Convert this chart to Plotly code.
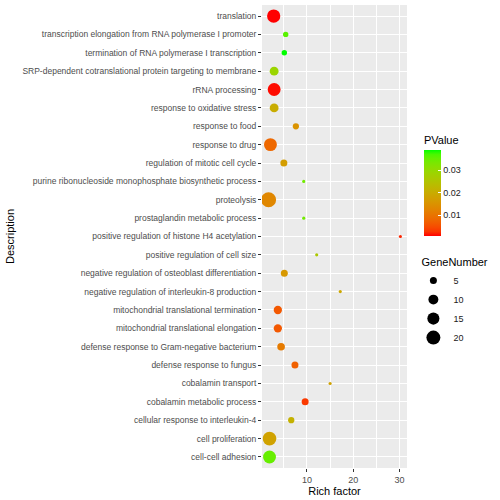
import numpy as np
import plotly.graph_objects as go

descriptions = [
    "translation",
    "transcription elongation from RNA polymerase I promoter",
    "termination of RNA polymerase I transcription",
    "SRP-dependent cotranslational protein targeting to membrane",
    "rRNA processing",
    "response to oxidative stress",
    "response to food",
    "response to drug",
    "regulation of mitotic cell cycle",
    "purine ribonucleoside monophosphate biosynthetic process",
    "proteolysis",
    "prostaglandin metabolic process",
    "positive regulation of histone H4 acetylation",
    "positive regulation of cell size",
    "negative regulation of osteoblast differentiation",
    "negative regulation of interleukin-8 production",
    "mitochondrial translational termination",
    "mitochondrial translational elongation",
    "defense response to Gram-negative bacterium",
    "defense response to fungus",
    "cobalamin transport",
    "cobalamin metabolic process",
    "cellular response to interleukin-4",
    "cell proliferation",
    "cell-cell adhesion",
]
rich_factor = [2.8, 5.4, 5.1, 2.9, 2.9, 2.9, 7.6, 2.1, 5.0, 9.3, 1.7, 9.3, 30.2,
               12.1, 5.1, 17.2, 3.7, 3.7, 4.4, 7.4, 15.0, 9.6, 6.6, 1.9, 1.9]
p_value = [0.0006, 0.036, 0.039, 0.029, 0.001, 0.020, 0.015, 0.008, 0.017, 0.034,
           0.013, 0.034, 0.002, 0.026, 0.016, 0.019, 0.006, 0.006, 0.011, 0.007,
           0.018, 0.003, 0.021, 0.018, 0.035]
gene_number = [18, 3, 3, 8, 17, 8, 4, 17, 5, 1, 23, 1, 1, 1, 5, 1, 7, 7, 6, 5,
               1, 5, 4, 19, 17]
legend_sizes = [5, 10, 15, 20]
colorbar_ticks = [0.01, 0.02, 0.03]

FONT = "Liberation Sans, Arial, Helvetica, sans-serif"

# --- Lab interpolation (ggplot-like gradient red -> green) ---
def srgb_to_lin(c):
    c = c / 255.0
    return np.where(c <= 0.04045, c / 12.92, ((c + 0.055) / 1.055) ** 2.4)

def lin_to_srgb(c):
    c = np.clip(c, 0, 1)
    v = np.where(c <= 0.0031308, 12.92 * c, 1.055 * c ** (1 / 2.4) - 0.055)
    return np.clip(v * 255, 0, 255)

M = np.array([[0.4124, 0.3576, 0.1805], [0.2126, 0.7152, 0.0722], [0.0193, 0.1192, 0.9505]])
Minv = np.linalg.inv(M)
WP = np.array([0.95047, 1.0, 1.08883])

def f(t):
    return np.where(t > (6 / 29) ** 3, np.cbrt(t), t / (3 * (6 / 29) ** 2) + 4 / 29)

def finv(t):
    return np.where(t > 6 / 29, t ** 3, 3 * (6 / 29) ** 2 * (t - 4 / 29))

def rgb_to_lab(rgb):
    xyz = M @ srgb_to_lin(np.array(rgb, float)) / WP
    fx, fy, fz = f(xyz)
    return np.array([116 * fy - 16, 500 * (fx - fy), 200 * (fy - fz)])

def lab_to_rgb(lab):
    L, a, b = lab
    fy = (L + 16) / 116
    fx = fy + a / 500
    fz = fy - b / 200
    xyz = finv(np.array([fx, fy, fz])) * WP
    return lin_to_srgb(Minv @ xyz)

lab_lo = rgb_to_lab([255, 0, 0])
lab_hi = rgb_to_lab([0, 255, 0])
colorscale = []
for t in np.linspace(0, 1, 21):
    r, g, b = lab_to_rgb(lab_lo + (lab_hi - lab_lo) * t)
    colorscale.append([float(t), f"rgb({int(round(r))},{int(round(g))},{int(round(b))})"])

def diam(n):
    return 3.13 * np.sqrt(np.asarray(n, float))

xmin, xmax = min(rich_factor), max(rich_factor)
pad = 0.05 * (xmax - xmin)

fig = go.Figure()
fig.add_trace(go.Scatter(
    x=rich_factor, y=descriptions, mode="markers",
    marker=dict(size=diam(gene_number), color=p_value, colorscale=colorscale,
                cmin=min(p_value), cmax=max(p_value), line=dict(width=0), opacity=1,
                showscale=True,
                colorbar=dict(
                    title=dict(text="PValue", side="top", font=dict(size=11, color="#000", family=FONT)),
                    x=1.117, xanchor="left", xref="paper",
                    y=0.612, yanchor="middle",
                    len=103, lenmode="pixels", thickness=17, thicknessmode="pixels",
                    outlinewidth=0, tickvals=colorbar_ticks, ticktext=[f"{v:.2f}" for v in colorbar_ticks],
                    ticks="inside", ticklen=3, tickcolor="white",
                    tickfont=dict(size=9, color="#1a1a1a", family=FONT),
                    xpad=0, ypad=0,
                )),
    showlegend=False, hoverinfo="skip",
))
for s in legend_sizes:
    fig.add_trace(go.Scatter(
        x=[None], y=[None], mode="markers", name=str(s),
        marker=dict(size=float(diam(s)), color="black", line=dict(width=0)),
        showlegend=True,
    ))

fig.update_layout(
    width=500, height=500,
    margin=dict(l=262, r=93, t=5, b=32, autoexpand=False),
    paper_bgcolor="white", plot_bgcolor="#EBEBEB",
    font=dict(family=FONT, color="#000"),
    xaxis=dict(
        range=[xmin - pad, xmax + pad], tickvals=[10, 20, 30],
        showgrid=True, gridcolor="white", gridwidth=1.1,
        minor=dict(tickvals=[5, 15, 25], showgrid=True, gridcolor="white", gridwidth=0.5, ticks=""),
        ticks="outside", ticklen=3, tickcolor="#333333", tickwidth=1,
        tickfont=dict(size=9, color="#4D4D4D", family=FONT),
        title=dict(text="Rich factor", font=dict(size=11, color="#000", family=FONT), standoff=2),
        zeroline=False, showline=False, automargin=False,
    ),
    yaxis=dict(
        categoryorder="array", categoryarray=descriptions,
        range=[len(descriptions) - 1 + 0.6, -0.6],
        showgrid=True, gridcolor="white", gridwidth=1.1,
        ticks="outside", ticklen=3, tickcolor="#333333", tickwidth=1,
        tickfont=dict(size=8.5, color="#4D4D4D", family=FONT),
        title=dict(text="Description", font=dict(size=11, color="#000", family=FONT), standoff=5),
        zeroline=False, showline=False, automargin=False,
    ),
    legend=dict(
        title=dict(text="\u00a0\u00a0GeneNumber", font=dict(size=11, color="#000", family=FONT)),
        x=1.044, xanchor="left", y=0.467, yanchor="top",
        font=dict(size=9, color="#1a1a1a", family=FONT),
        bgcolor="rgba(0,0,0,0)", itemsizing="trace", tracegroupgap=0,
    ),
)

fig.write_html("out.html", config={"displayModeBar": False},
               post_script="document.body.style.margin='0px';document.body.style.overflow='hidden';")
